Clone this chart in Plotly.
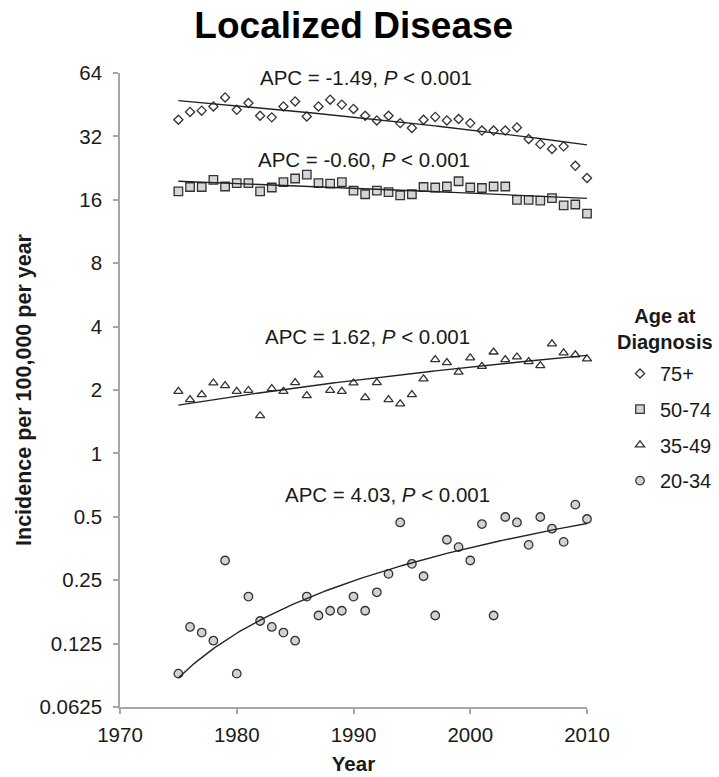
import numpy as np
import plotly.graph_objects as go

years = list(range(1975, 2011))

inc_75plus = [38.4, 41.8, 42.4, 44.4, 49.0, 42.8, 46.1, 40.1, 39.4, 44.4,
              46.9, 39.8, 44.4, 47.8, 45.3, 43.2, 40.1, 38.1, 40.1, 37.0,
              35.1, 38.4, 39.6, 38.1, 38.7, 37.0, 34.1, 34.1, 34.1, 35.3,
              31.1, 29.4, 27.9, 28.7, 23.2, 20.3]
inc_50_74 = [17.55, 18.4, 18.4, 19.9, 18.5, 19.2, 19.2, 17.55, 18.3, 19.4,
             20.2, 21.05, 19.2, 19.1, 19.4, 17.7, 17.0, 17.7, 17.4, 16.8,
             17.0, 18.4, 18.3, 18.5, 19.6, 18.3, 18.2, 18.5, 18.5, 16.0,
             16.0, 15.85, 16.3, 15.05, 15.2, 13.75]
inc_35_49 = [1.97, 1.80, 1.90, 2.16, 2.10, 1.97, 1.99, 1.51, 2.03, 1.97,
             2.17, 1.88, 2.36, 1.99, 1.97, 2.16, 1.84, 2.17, 1.80, 1.72,
             1.90, 2.26, 2.79, 2.70, 2.43, 2.84, 2.59, 3.03, 2.79, 2.87,
             2.73, 2.61, 3.31, 3.00, 2.94, 2.81]
inc_20_34 = [0.090, 0.150, 0.141, 0.129, 0.310, 0.090, 0.209, 0.160, 0.150, 0.141,
             0.129, 0.209, 0.170, 0.179, 0.179, 0.209, 0.179, 0.219, 0.268, 0.470,
             0.299, 0.261, 0.170, 0.389, 0.359, 0.310, 0.462, 0.170, 0.499, 0.470,
             0.368, 0.499, 0.439, 0.380, 0.571, 0.488]

group_names = ["75+", "50-74", "35-49", "20-34"]
apc_values = ["-1.49", "-0.60", "1.62", "4.03"]
apc_label_x = [1991.05, 1990.9, 1991.2, 1992.9]
apc_label_y = [60.6, 24.8, 3.59, 0.637]

y_tick_vals = [0.0625, 0.125, 0.25, 0.5, 1, 2, 4, 8, 16, 32, 64]
y_tick_text = ["0.0625", "0.125", "0.25", "0.5", "1", "2", "4", "8", "16", "32", "64"]
x_tick_vals = [1970, 1980, 1990, 2000, 2010]

series = [inc_75plus, inc_50_74, inc_35_49, inc_20_34]
symbols = ["diamond", "square", "triangle-up", "circle"]
sizes = [7, 8.5, 8, 8.5]
fills = ["white", "#d6d6d6", "white", "#d2d2d2"]

FONT = "Liberation Sans, Arial, sans-serif"
INK = "#1a1a1a"

fig = go.Figure()

for name, vals, sym, sz, fc in zip(group_names, series, symbols, sizes, fills):
    fig.add_trace(go.Scatter(
        x=years, y=vals, mode="markers", name=name,
        legendgroup=name,
        marker=dict(symbol=sym, size=sz, color=fc,
                    line=dict(color="#333333", width=1.3)),
        cliponaxis=False,
    ))

# linear trend lines fitted to each series
fit_x = np.linspace(years[0], years[-1], 141)
for name, vals in zip(group_names, series):
    b, a = np.polyfit(years, vals, 1)
    fig.add_trace(go.Scatter(
        x=fit_x, y=a + b * fit_x, mode="lines", showlegend=False,
        line=dict(color="#222222", width=1.4), hoverinfo="skip",
        cliponaxis=False,
    ))

for apc, ax, ay in zip(apc_values, apc_label_x, apc_label_y):
    fig.add_annotation(
        x=ax, y=np.log10(ay), xref="x", yref="y",
        text=f"APC = {apc}, <i>P</i> &lt; 0.001",
        showarrow=False, font=dict(family=FONT, size=20.5, color=INK),
        xanchor="center", yanchor="middle",
    )

# legend heading
fig.add_annotation(
    x=1.1663, y=0.596, xref="paper", yref="paper",
    text="<b>Age at<br>Diagnosis</b>", showarrow=False,
    font=dict(family=FONT, size=20, color=INK),
    xanchor="center", yanchor="middle", align="center",
)

fig.update_layout(
    width=719, height=777,
    margin=dict(l=120, r=131.7, t=73.3, b=69.7, autoexpand=False),
    paper_bgcolor="white", plot_bgcolor="white",
    font=dict(family=FONT, size=20, color=INK),
    title=dict(text="<b>Localized Disease</b>", x=0.492, xref="container",
               y=1 - 25.5 / 777, yref="container", xanchor="center", yanchor="middle",
               font=dict(family=FONT, size=37, color="black")),
    legend=dict(
        xref="container", yref="container",
        x=620 / 719, xanchor="left", y=1 - 354 / 777, yanchor="top",
        font=dict(family=FONT, size=20, color=INK),
        traceorder="grouped", tracegroupgap=6.7,
        bgcolor="rgba(0,0,0,0)", itemsizing="trace",
    ),
    showlegend=True,
)

fig.update_xaxes(
    range=[1970, 2010], tickvals=x_tick_vals, showgrid=False, zeroline=False,
    automargin=False,
    showline=True, linecolor="#a6a6a6", linewidth=1.5,
    ticks="outside", ticklen=5, tickcolor="#a6a6a6", tickwidth=1.5,
    ticklabelstandoff=4,
    tickfont=dict(family=FONT, size=20.5, color=INK),
    title=dict(text="<b>Year</b>", font=dict(family=FONT, size=20.5, color=INK), standoff=11),
)
fig.update_yaxes(
    type="log", range=[np.log10(0.0625), np.log10(64)],
    tickvals=y_tick_vals, ticktext=y_tick_text, showgrid=False, zeroline=False,
    automargin=False,
    showline=True, linecolor="#a6a6a6", linewidth=1.5,
    ticks="outside", ticklen=5, tickcolor="#a6a6a6", tickwidth=1.5,
    ticklabelstandoff=7,
    tickfont=dict(family=FONT, size=20.5, color=INK),
    title=dict(text="<b>Incidence per 100,000 per year</b>",
               font=dict(family=FONT, size=21.5, color=INK), standoff=2),
)

fig.write_html("out.html")
